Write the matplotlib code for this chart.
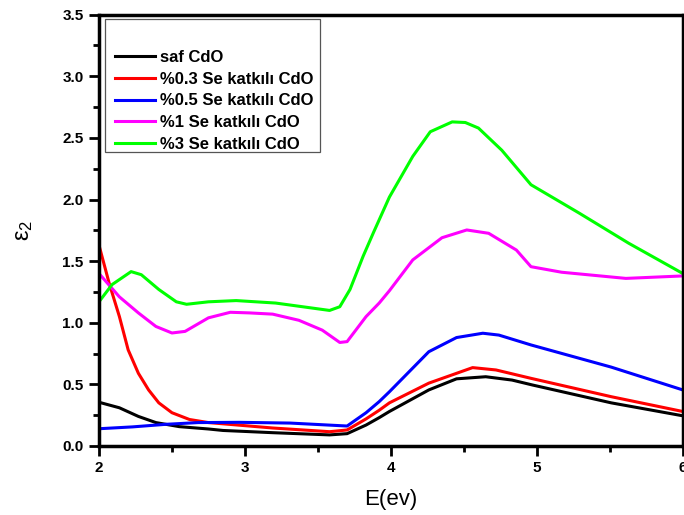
import matplotlib
matplotlib.use("Agg")
import matplotlib.pyplot as plt
from matplotlib.patches import Rectangle
from matplotlib.ticker import MultipleLocator, FormatStrFormatter

# photon energy (eV) and imaginary dielectric constant for each sample
x_saf = [2.0, 2.14, 2.27, 2.39, 2.55, 2.75, 2.85, 3.19, 3.58, 3.70, 3.83, 3.92, 3.99, 4.26,
         4.45, 4.65, 4.83, 4.97, 5.51, 6.0]
y_saf = [0.355, 0.31, 0.24, 0.19, 0.157, 0.138, 0.126, 0.108, 0.09, 0.10, 0.17, 0.23, 0.28,
         0.455, 0.545, 0.562, 0.535, 0.495, 0.35, 0.245]

x_se03 = [2.0, 2.07, 2.14, 2.20, 2.27, 2.34, 2.41, 2.50, 2.62, 2.75, 2.85, 3.19, 3.58, 3.70,
          3.83, 3.92, 3.99, 4.26, 4.56, 4.72, 4.96, 5.51, 6.0]
y_se03 = [1.63, 1.32, 1.05, 0.78, 0.59, 0.455, 0.35, 0.27, 0.215, 0.19, 0.18, 0.146, 0.116,
          0.13, 0.22, 0.29, 0.35, 0.51, 0.636, 0.617, 0.549, 0.40, 0.28]

x_se05 = [2.0, 2.23, 2.46, 2.68, 2.96, 3.31, 3.70, 3.83, 3.92, 3.99, 4.26, 4.45, 4.63, 4.74,
          4.96, 5.51, 6.0]
y_se05 = [0.14, 0.155, 0.176, 0.19, 0.192, 0.186, 0.162, 0.27, 0.36, 0.44, 0.765, 0.88, 0.915,
          0.90, 0.82, 0.64, 0.455]

x_se1 = [2.0, 2.14, 2.27, 2.39, 2.50, 2.59, 2.75, 2.90, 3.03, 3.19, 3.37, 3.53, 3.65, 3.70,
         3.83, 3.92, 3.99, 4.15, 4.35, 4.52, 4.67, 4.86, 4.96, 5.17, 5.61, 6.0]
y_se1 = [1.40, 1.21, 1.08, 0.97, 0.917, 0.93, 1.04, 1.085, 1.08, 1.07, 1.02, 0.94, 0.84, 0.847,
         1.05, 1.16, 1.26, 1.51, 1.69, 1.753, 1.726, 1.59, 1.455, 1.41, 1.36, 1.38]

x_se3 = [2.0, 2.09, 2.22, 2.29, 2.41, 2.53, 2.60, 2.75, 2.94, 3.21, 3.58, 3.65, 3.72, 3.81,
         3.88, 3.99, 4.15, 4.27, 4.42, 4.51, 4.60, 4.76, 4.96, 5.29, 5.63, 6.0]
y_se3 = [1.17, 1.31, 1.415, 1.39, 1.27, 1.17, 1.15, 1.17, 1.18, 1.16, 1.10, 1.13, 1.27, 1.54,
         1.73, 2.02, 2.35, 2.55, 2.63, 2.625, 2.58, 2.40, 2.12, 1.89, 1.645, 1.40]

labels = ["saf CdO", "%0.3 Se katkılı CdO", "%0.5 Se katkılı CdO",
          "%1 Se katkılı CdO", "%3 Se katkılı CdO"]
colors = ["#000000", "#FF0000", "#0000FF", "#FF00FF", "#00FF00"]

plt.rcParams["font.family"] = ["Liberation Sans", "DejaVu Sans"]

fig = plt.figure(figsize=(6.84, 5.15), dpi=100)
ax = fig.add_axes([0.1447, 0.134, 0.8535, 0.8375])

series = [(x_saf, y_saf), (x_se03, y_se03), (x_se05, y_se05), (x_se1, y_se1), (x_se3, y_se3)]
for (xs, ys), lab, c in zip(series, labels, colors):
    ax.plot(xs, ys, color=c, lw=2.2, label=lab, solid_joinstyle="round")

ax.set_xlim(2, 6)
ax.set_ylim(0, 3.5)
ax.xaxis.set_major_locator(MultipleLocator(1))
ax.xaxis.set_minor_locator(MultipleLocator(0.5))
ax.yaxis.set_major_locator(MultipleLocator(0.5))
ax.yaxis.set_minor_locator(MultipleLocator(0.25))
ax.yaxis.set_major_formatter(FormatStrFormatter("%.1f"))
ax.tick_params(which="major", direction="out", length=7, width=2, labelsize=11, pad=4)
ax.tick_params(which="minor", direction="out", length=4, width=2)
for lab in ax.get_xticklabels() + ax.get_yticklabels():
    lab.set_fontweight("bold")
for sp in ax.spines.values():
    sp.set_linewidth(2.5)

ax.set_xlabel("E(ev)", fontsize=16, labelpad=10)
ax.set_ylabel(r"$\mathregular{\epsilon_2}$", fontsize=17, labelpad=20)

# legend box drawn separately so the empty band above the entries is kept
ax.add_patch(Rectangle((0.0103, 0.6817), 0.369, 0.3083, transform=ax.transAxes,
                       fill=False, edgecolor="#555555", lw=0.9, zorder=5))
ax.legend(loc="upper left", bbox_to_anchor=(0.0154, 0.934), frameon=False,
          prop={"weight": "bold", "size": 12}, handlelength=2.4, handletextpad=0.3,
          labelspacing=0.41, borderaxespad=0.0)

fig.savefig("out.png", dpi=100)
